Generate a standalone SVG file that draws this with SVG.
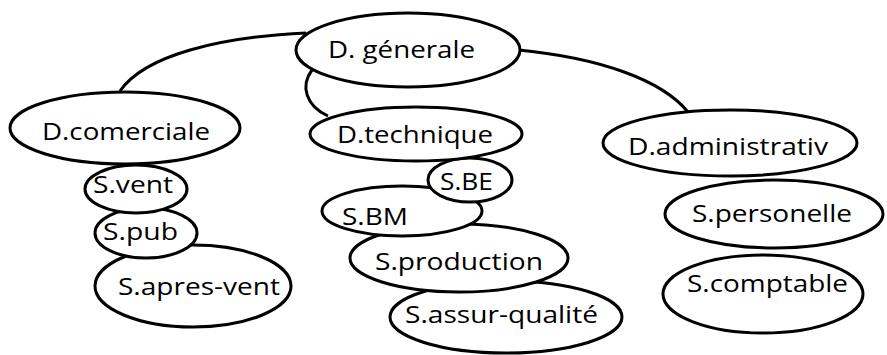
<svg xmlns="http://www.w3.org/2000/svg" width="887" height="355" viewBox="0 0 887 355">
  <style>
    .node ellipse { fill: #ffffff; stroke: #000000; stroke-width: 3; }
    .node text { font-family: "Open Sans", "Noto Sans", sans-serif; font-size: 24px; fill: #000000; }
    .links path { fill: none; stroke: #000000; stroke-width: 3; }
  </style>
  <rect width="887" height="355" fill="#ffffff"/>

  <!-- connectors from the head office to each department -->
  <g id="connectors" class="links">
    <path d="M120,91 C145,55 220,37 306,33"/>
    <path d="M312,70 C300,86 306,106 328,116"/>
    <path d="M519,50 C600,58 662,80 688,112"/>
  </g>

  <!-- top -->
  <g id="d-generale" class="node">
    <ellipse cx="408" cy="50" rx="112" ry="37"/>
    <text x="328" y="58" textLength="147" lengthAdjust="spacingAndGlyphs">D. génerale</text>
  </g>

  <!-- left column (drawn bottom-up so upper shapes overlap lower ones) -->
  <g id="s-apres-vent" class="node">
    <ellipse cx="193" cy="286" rx="98" ry="41"/>
    <text x="118" y="295" textLength="162" lengthAdjust="spacingAndGlyphs">S.apres-vent</text>
  </g>
  <g id="s-pub" class="node">
    <ellipse cx="146" cy="233" rx="51" ry="25"/>
    <text x="103" y="240" textLength="75" lengthAdjust="spacingAndGlyphs">S.pub</text>
  </g>
  <g id="s-vent" class="node">
    <ellipse cx="136" cy="189" rx="51" ry="24"/>
    <text x="93" y="193" textLength="80" lengthAdjust="spacingAndGlyphs">S.vent</text>
  </g>
  <g id="d-comerciale" class="node">
    <ellipse cx="125" cy="128" rx="115" ry="36"/>
    <text x="42" y="140" textLength="168" lengthAdjust="spacingAndGlyphs">D.comerciale</text>
  </g>

  <!-- middle column -->
  <g id="s-assur-qualite" class="node">
    <ellipse cx="506" cy="317" rx="116" ry="36"/>
    <text x="405" y="323" textLength="193" lengthAdjust="spacingAndGlyphs">S.assur-qualité</text>
  </g>
  <g id="s-production" class="node">
    <ellipse cx="459" cy="258" rx="109" ry="34"/>
    <text x="375" y="270" textLength="168" lengthAdjust="spacingAndGlyphs">S.production</text>
  </g>
  <g id="s-bm" class="node">
    <ellipse cx="402" cy="211" rx="80" ry="25"/>
    <text x="342" y="225" textLength="66" lengthAdjust="spacingAndGlyphs">S.BM</text>
  </g>
  <g id="s-be" class="node">
    <ellipse cx="470" cy="180" rx="42" ry="22"/>
    <text x="440" y="190" textLength="53" lengthAdjust="spacingAndGlyphs">S.BE</text>
  </g>
  <g id="d-technique" class="node">
    <ellipse cx="416" cy="134" rx="106" ry="27"/>
    <text x="337" y="143" textLength="156" lengthAdjust="spacingAndGlyphs">D.technique</text>
  </g>

  <!-- right column -->
  <g id="d-administrativ" class="node">
    <ellipse cx="730" cy="143" rx="127" ry="33"/>
    <text x="628" y="155" textLength="200" lengthAdjust="spacingAndGlyphs">D.administrativ</text>
  </g>
  <g id="s-personelle" class="node">
    <ellipse cx="774" cy="214" rx="109" ry="34"/>
    <text x="692" y="222" textLength="160" lengthAdjust="spacingAndGlyphs">S.personelle</text>
  </g>
  <g id="s-comptable" class="node">
    <ellipse cx="763" cy="294" rx="100" ry="39"/>
    <text x="687" y="292" textLength="161" lengthAdjust="spacingAndGlyphs">S.comptable</text>
  </g>
</svg>
